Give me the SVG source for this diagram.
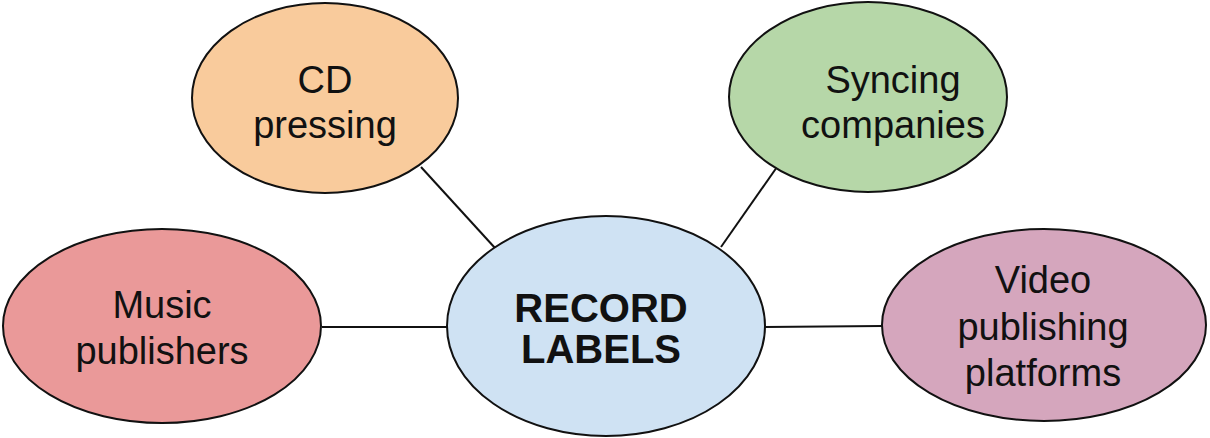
<svg xmlns="http://www.w3.org/2000/svg" width="1210" height="438" viewBox="0 0 1210 438">
<style>
.n{stroke:#111;stroke-width:2}
.c{stroke:#111;stroke-width:2;fill:none}
.t{font-family:"Liberation Sans",Arial,sans-serif;font-size:38px;fill:#111;text-anchor:middle}
.b{font-weight:bold;font-size:40px}
</style>
<rect width="1210" height="438" fill="#fff"/>
<g id="connectors">
<line class="c" x1="421" y1="167" x2="495" y2="248"/>
<line class="c" x1="777" y1="167" x2="721" y2="247"/>
<line class="c" x1="322" y1="327" x2="448" y2="327"/>
<line class="c" x1="765" y1="327" x2="882" y2="326"/>
</g>
<g id="cd-pressing">
<ellipse class="n" cx="325" cy="98" rx="133" ry="95" fill="#f9cb9c"/>
<text class="t" x="325" y="93">CD</text>
<text class="t" x="325" y="138">pressing</text>
</g>
<g id="syncing-companies">
<ellipse class="n" cx="868" cy="97" rx="139" ry="95" fill="#b6d7a8"/>
<text class="t" x="893" y="93">Syncing</text>
<text class="t" x="893" y="138">companies</text>
</g>
<g id="music-publishers">
<ellipse class="n" cx="162" cy="326" rx="159" ry="97" fill="#ea9999"/>
<text class="t" x="162" y="318">Music</text>
<text class="t" x="162" y="364">publishers</text>
</g>
<g id="record-labels">
<ellipse class="n" cx="606" cy="326" rx="159" ry="110" fill="#cfe2f3"/>
<text class="t b" x="601" y="322">RECORD</text>
<text class="t b" x="601" y="363">LABELS</text>
</g>
<g id="video-publishing-platforms">
<ellipse class="n" cx="1044" cy="325" rx="162" ry="96" fill="#d5a6bd"/>
<text class="t" x="1043" y="293">Video</text>
<text class="t" x="1043" y="340">publishing</text>
<text class="t" x="1043" y="386">platforms</text>
</g>
</svg>
